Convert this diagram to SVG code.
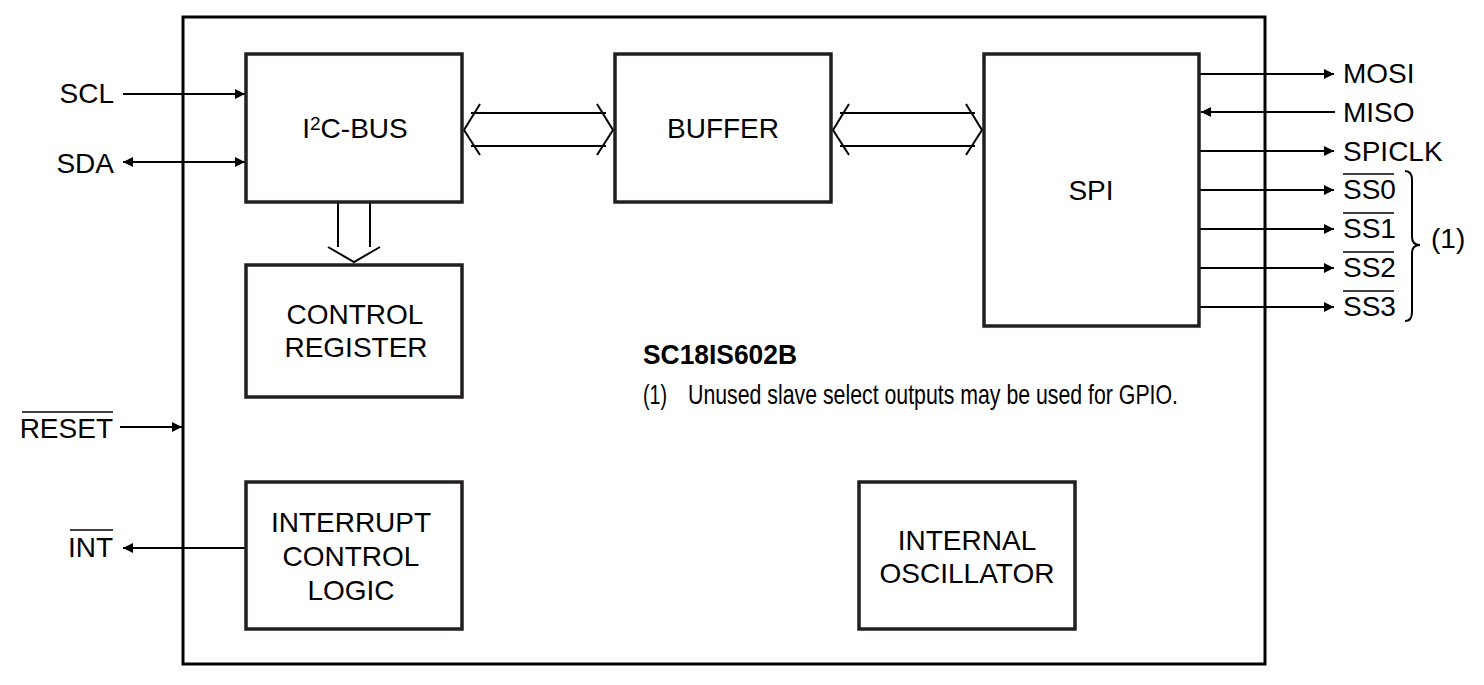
<svg xmlns="http://www.w3.org/2000/svg" width="1484" height="685" viewBox="0 0 1484 685">
<defs>
<marker id="ah" viewBox="0 0 10 10" refX="10" refY="5" markerWidth="14" markerHeight="10" markerUnits="userSpaceOnUse" orient="auto-start-reverse"><path d="M0,0 L10,5 L0,10 z" fill="#000"/></marker>
<style>
.box{fill:#fff;stroke:#231f20;stroke-width:3.5}
.ln{stroke:#000;stroke-width:2;fill:none}
.t{font-family:"Liberation Sans",Arial,sans-serif;font-size:28px;fill:#000}
.c{text-anchor:middle}
.r{text-anchor:end}
.ob{stroke:#000;stroke-width:1.5}
</style>
</defs>
<rect width="1484" height="685" fill="#fff"/>
<g id="chip"><rect x="183" y="17" width="1082" height="647" fill="none" stroke="#000" stroke-width="3"/></g>
<g id="connectors">
<line class="ln" x1="123" y1="94" x2="245" y2="94" marker-end="url(#ah)"/>
<line class="ln" x1="123" y1="162" x2="245" y2="162" marker-start="url(#ah)" marker-end="url(#ah)"/>
<line class="ln" x1="120" y1="427" x2="182" y2="427" marker-end="url(#ah)"/>
<line class="ln" x1="246" y1="548" x2="123" y2="548" marker-end="url(#ah)"/>
<line class="ln" x1="1199" y1="74" x2="1334" y2="74" marker-end="url(#ah)"/>
<line class="ln" x1="1335" y1="112" x2="1201" y2="112" marker-end="url(#ah)"/>
<line class="ln" x1="1199" y1="151" x2="1334" y2="151" marker-end="url(#ah)"/>
<line class="ln" x1="1199" y1="190" x2="1334" y2="190" marker-end="url(#ah)"/>
<line class="ln" x1="1199" y1="229" x2="1334" y2="229" marker-end="url(#ah)"/>
<line class="ln" x1="1199" y1="268" x2="1334" y2="268" marker-end="url(#ah)"/>
<line class="ln" x1="1199" y1="307" x2="1334" y2="307" marker-end="url(#ah)"/>
<path class="ln" d="M480,104 L464,130 L480,155 M471,113 L606,113 M471,146 L606,146 M597,104 L613,130 L597,155"/>
<path class="ln" d="M849,104 L833,130 L849,155 M840,113 L975,113 M840,146 L975,146 M966,104 L982,130 L966,155"/>
<path class="ln" d="M338,202 L338,247 M370,202 L370,247 M328,247 L354,262 L380,247"/>
<path class="ln" stroke-width="1.5" d="M1405,171 Q1412,171 1412,180 L1412,237 Q1412,245 1420,245 Q1412,245 1412,253 L1412,312 Q1412,321 1405,321"/>
</g>
<g id="i2c"><rect class="box" x="246" y="54" width="216" height="148"/><text class="t c" x="355" y="138">I<tspan font-size="19" dy="-8">2</tspan><tspan dy="8">C-BUS</tspan></text></g>
<g id="buffer"><rect class="box" x="615" y="54" width="216" height="148"/><text class="t c" x="723" y="138">BUFFER</text></g>
<g id="spi"><rect class="box" x="984" y="54" width="215" height="272"/><text class="t c" x="1091" y="200">SPI</text></g>
<g id="ctrl"><rect class="box" x="246" y="265" width="216" height="132"/><text class="t c" x="355" y="324">CONTROL</text><text class="t c" x="356" y="357">REGISTER</text></g>
<g id="irq"><rect class="box" x="246" y="482" width="216" height="147"/><text class="t c" x="351" y="532">INTERRUPT</text><text class="t c" x="351" y="566">CONTROL</text><text class="t c" x="351" y="600">LOGIC</text></g>
<g id="osc"><rect class="box" x="859" y="482" width="216" height="147"/><text class="t c" x="967" y="550">INTERNAL</text><text class="t c" x="967" y="583">OSCILLATOR</text></g>
<g id="labels">
<text class="t r" x="114" y="103">SCL</text>
<text class="t r" x="114" y="173">SDA</text>
<text class="t r" x="113" y="438">RESET</text><line class="ob" x1="22" y1="412" x2="113" y2="412"/>
<text class="t r" x="113" y="557">INT</text><line class="ob" x1="70" y1="530" x2="113" y2="530"/>
<text class="t" x="1343" y="83">MOSI</text>
<text class="t" x="1343" y="122">MISO</text>
<text class="t" x="1343" y="161">SPICLK</text>
<text class="t" x="1343" y="199">SS0</text><line class="ob" x1="1343" y1="174" x2="1394" y2="174"/>
<text class="t" x="1343" y="238">SS1</text><line class="ob" x1="1343" y1="213" x2="1394" y2="213"/>
<text class="t" x="1343" y="277">SS2</text><line class="ob" x1="1343" y1="252" x2="1394" y2="252"/>
<text class="t" x="1343" y="316">SS3</text><line class="ob" x1="1343" y1="291" x2="1394" y2="291"/>
<text class="t" x="1431" y="248" font-size="20">(1)</text>
<text class="t" x="643" y="364" font-size="28" font-weight="bold" textLength="154" lengthAdjust="spacingAndGlyphs">SC18IS602B</text>
<text class="t" x="643" y="404" font-size="20" textLength="24" lengthAdjust="spacingAndGlyphs">(1)</text>
<text class="t" x="688" y="404" font-size="20" textLength="490" lengthAdjust="spacingAndGlyphs">Unused slave select outputs may be used for GPIO.</text>
</g>
</svg>
